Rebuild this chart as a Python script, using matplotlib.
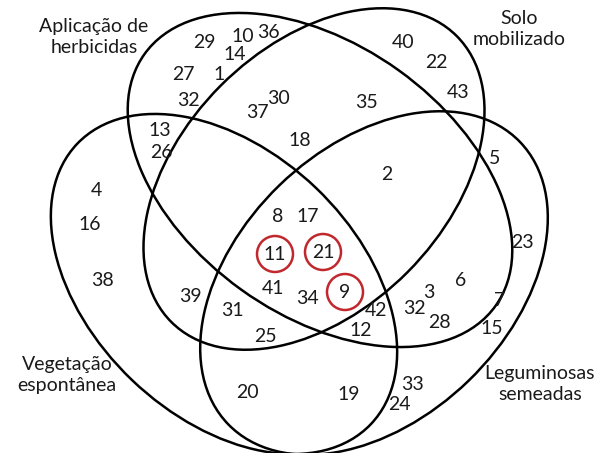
import matplotlib
matplotlib.use("Agg")
import matplotlib.pyplot as plt
from matplotlib.patches import Ellipse, Circle

W, H = 603, 453

# set names, one per ellipse (herbicidas, solo, vegetacao, leguminosas)
set_names = ["Aplicação de\nherbicidas", "Solo\nmobilizado",
             "Vegetação\nespontânea", "Leguminosas\nsemeadas"]

# element ids shown inside the diagram, and the ones circled in red
numbers = ["29", "10", "36", "14", "27", "1", "32", "37", "30", "13", "26",
           "18", "4", "16", "38", "40", "22", "43", "35", "5", "2", "8", "17",
           "11", "21", "9", "41", "34", "23", "39", "31", "25", "42", "32",
           "3", "6", "28", "7", "15", "12", "20", "19", "33", "24"]
circled = ["11", "21", "9"]

# layout, in pixel coords (y down)
# ellipse geometry: centre x, centre y, semi-major, semi-minor, angle
ellipses = [
    (320, 180, 216, 135, 35.7),
    (314, 179, 202, 132, -45.1),
    (224, 284, 203, 133, 43.7),
    (374, 283, 203, 136, -44.1),
]
name_xy = [(94, 37), (519, 29), (67, 375), (540, 384)]
num_xy = [(204, 43), (243, 37), (268, 32), (235, 55), (183, 74), (219, 75),
          (188, 100), (257, 112), (279, 98), (160, 131), (161, 153),
          (300, 140), (96, 190), (90, 225), (102, 280), (403, 42), (436, 63),
          (458, 93), (367, 103), (495, 159), (387, 174), (278, 217),
          (308, 217), (275, 254), (323, 252), (345, 292), (273, 288),
          (307, 298), (522, 243), (190, 296), (232, 311), (265, 336),
          (376, 310), (414, 309), (429, 292), (461, 281), (439, 323),
          (500, 300), (492, 329), (361, 330), (247, 393), (349, 395),
          (413, 384), (399, 404)]

plt.rcParams["font.family"] = ["Lato", "DejaVu Sans"]

fig = plt.figure(figsize=(W / 100, H / 100), dpi=100)
ax = fig.add_axes([0, 0, 1, 1])
ax.set_xlim(0, W)
ax.set_ylim(H, 0)
ax.axis("off")

for cx, cy, a, b, ang in ellipses:
    ax.add_patch(Ellipse((cx, cy), 2 * a, 2 * b, angle=ang, fill=False,
                         lw=1.8, color="black"))

for txt, (x, y) in zip(numbers, num_xy):
    ax.text(x, y, txt, ha="center", va="center", fontsize=14, color="#1a1a1a")

# red rings around the highlighted ids
for txt in circled:
    x, y = num_xy[numbers.index(txt)]
    ax.add_patch(Circle((x, y), 18, fill=False, lw=1.8, color="#c0282d"))

for txt, (x, y) in zip(set_names, name_xy):
    ax.text(x, y, txt, ha="center", va="center", fontsize=14,
            color="#1a1a1a", linespacing=1.3)

fig.savefig("out.png", dpi=100)
plt.close(fig)
